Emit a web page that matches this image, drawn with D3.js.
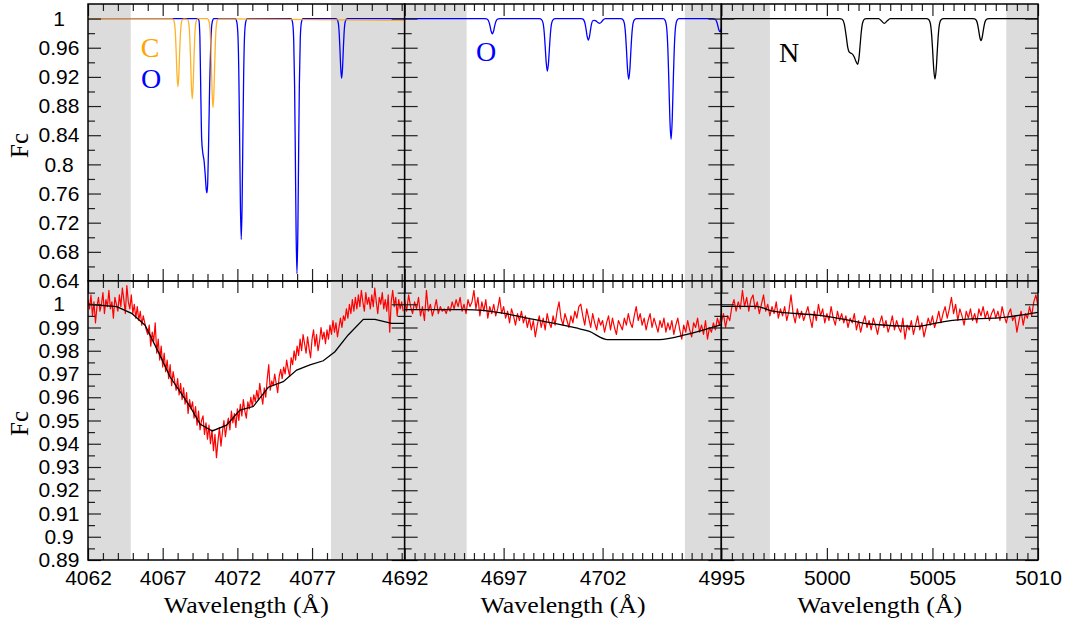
<!DOCTYPE html>
<html>
<head>
<meta charset="utf-8">
<script src="https://cdn.jsdelivr.net/npm/d3@7"></script>
<style>
  body { margin: 0; background: #fff; }
  svg { display: block; }
</style>
</head>
<body>
<div id="chart"></div>
<script>
// wavelength windows, one per column
var waveDomains = [[4062, 4083.2], [4692, 4708], [4995, 5010]];
var xMajorTicks = [[4062, 4067, 4072, 4077], [4692, 4697, 4702], [4995, 5000, 5005, 5010]];
var xMinorStep = [1, 0.5, 0.5];

var topYTicks = [0.64, 0.68, 0.72, 0.76, 0.8, 0.84, 0.88, 0.92, 0.96, 1];
var topYLabels = ["0.64", "0.68", "0.72", "0.76", "0.8", "0.84", "0.88", "0.92", "0.96", "1"];
var topYMinor = [0.66, 0.7, 0.74, 0.78, 0.82, 0.86, 0.9, 0.94, 0.98];
var botYTicks = [0.89, 0.9, 0.91, 0.92, 0.93, 0.94, 0.95, 0.96, 0.97, 0.98, 0.99, 1];
var botYLabels = ["0.89", "0.9", "0.91", "0.92", "0.93", "0.94", "0.95", "0.96", "0.97", "0.98", "0.99", "1"];
var botYMinor = [0.895, 0.905, 0.915, 0.925, 0.935, 0.945, 0.955, 0.965, 0.975, 0.985, 0.995, 1.005];

// grey bands (masked regions)
var shaded = [
  [[4062, 4064.86], [4078.27, 4083.2]],
  [[4692, 4695.13], [4706.16, 4708]],
  [[4995, 4997.3], [5008.5, 5010]]
];

// synthetic line profiles, top row  [wavelength, flux]
var oxygen1 = [[4062, 1], [4069.32, 1], [4069.42, 0.998], [4069.49, 0.975], [4069.55, 0.90], [4069.61, 0.835],
  [4069.69, 0.815], [4069.77, 0.805], [4069.85, 0.785], [4069.92, 0.765], [4069.965, 0.761], [4070.015, 0.775],
  [4070.075, 0.83], [4070.145, 0.91], [4070.225, 0.97], [4070.315, 0.995], [4070.425, 1],
  [4071.86, 1], [4071.96, 0.9955], [4072.04, 0.976], [4072.10, 0.921], [4072.15, 0.839], [4072.20, 0.749],
  [4072.26, 0.697], [4072.32, 0.749], [4072.37, 0.839], [4072.42, 0.921], [4072.48, 0.976], [4072.56, 0.9955], [4072.66, 1],
  [4075.59, 1], [4075.69, 0.995], [4075.77, 0.972], [4075.83, 0.909], [4075.88, 0.815], [4075.93, 0.71],
  [4075.99, 0.650], [4076.05, 0.71], [4076.10, 0.815], [4076.15, 0.909], [4076.21, 0.972], [4076.29, 0.995], [4076.39, 1],
  [4078.58, 1], [4078.68, 0.9988], [4078.76, 0.9934], [4078.82, 0.9787], [4078.87, 0.9565], [4078.92, 0.932],
  [4078.98, 0.918], [4079.04, 0.932], [4079.09, 0.9565], [4079.14, 0.9787], [4079.20, 0.9934], [4079.28, 0.9988], [4079.38, 1],
  [4083.2, 1]];
var carbon1 = [[4062, 1], [4067.62, 1], [4067.72, 0.9986], [4067.80, 0.9925], [4067.86, 0.9757], [4067.91, 0.9504],
  [4067.96, 0.9224], [4068.02, 0.9065], [4068.08, 0.9224], [4068.13, 0.9504], [4068.18, 0.9757], [4068.24, 0.9925],
  [4068.32, 0.9986], [4068.42, 0.9995], [4068.50, 0.9995],
  [4068.68, 0.9984], [4068.76, 0.9912], [4068.82, 0.9714], [4068.87, 0.9417], [4068.92, 0.9087], [4068.98, 0.890],
  [4069.04, 0.9087], [4069.09, 0.9417], [4069.14, 0.9714], [4069.20, 0.9912], [4069.28, 0.9984], [4069.38, 1],
  [4069.97, 1], [4070.07, 0.9982], [4070.15, 0.9902], [4070.21, 0.9683], [4070.26, 0.9353], [4070.31, 0.8987],
  [4070.37, 0.878], [4070.43, 0.8987], [4070.48, 0.9353], [4070.53, 0.9683], [4070.59, 0.9902], [4070.67, 0.9982],
  [4070.77, 0.9995], [4083.2, 0.9975]];
var oxygen2 = [[4692, 1], [4696.03, 1], [4696.13, 0.9997], [4696.21, 0.9983], [4696.27, 0.9945], [4696.32, 0.9889],
  [4696.37, 0.9826], [4696.43, 0.979], [4696.49, 0.9826], [4696.54, 0.9889], [4696.59, 0.9945], [4696.65, 0.9983],
  [4696.73, 0.9997], [4696.83, 1],
  [4698.81, 1], [4698.91, 0.9989], [4698.99, 0.9942], [4699.05, 0.9813], [4699.10, 0.9618], [4699.15, 0.9402],
  [4699.21, 0.928], [4699.27, 0.9402], [4699.32, 0.9618], [4699.37, 0.9813], [4699.43, 0.9942], [4699.51, 0.9989], [4699.61, 1],
  [4700.88, 1], [4700.98, 0.9996], [4701.06, 0.9976], [4701.12, 0.9924], [4701.17, 0.9844], [4701.22, 0.9756],
  [4701.28, 0.9706], [4701.34, 0.9756], [4701.39, 0.9844], [4701.44, 0.9924], [4701.50, 0.997], [4701.58, 0.9975],
  [4701.68, 0.9965], [4701.77, 0.9945], [4701.85, 0.9935], [4701.93, 0.9948], [4702.02, 0.998], [4702.14, 1],
  [4702.92, 1], [4703.02, 0.9988], [4703.10, 0.9933], [4703.16, 0.9783], [4703.21, 0.9559], [4703.26, 0.9309],
  [4703.32, 0.9167], [4703.38, 0.9309], [4703.43, 0.9559], [4703.48, 0.9783], [4703.54, 0.9933], [4703.62, 0.9988], [4703.72, 1],
  [4705.06, 1], [4705.16, 0.9975], [4705.24, 0.9868], [4705.30, 0.9569], [4705.35, 0.9122], [4705.40, 0.8626],
  [4705.46, 0.8344], [4705.52, 0.8626], [4705.57, 0.9122], [4705.62, 0.9569], [4705.68, 0.9868], [4705.76, 0.9975], [4705.86, 1],
  [4707.53, 1], [4707.63, 0.9997], [4707.71, 0.9986], [4707.77, 0.9953], [4707.82, 0.9905], [4707.87, 0.9851],
  [4707.93, 0.982], [4707.99, 0.9851], [4708.04, 0.9905]];
var nitrogen3 = [[4995, 1], [5000.6, 1], [5000.72, 0.999], [5000.82, 0.993], [5000.92, 0.975], [5000.99, 0.960],
  [5001.06, 0.954], [5001.14, 0.9525], [5001.22, 0.951], [5001.30, 0.947], [5001.38, 0.941], [5001.46, 0.9373],
  [5001.52, 0.946], [5001.57, 0.962], [5001.63, 0.982], [5001.70, 0.995], [5001.80, 0.9995], [5001.9, 1],
  [5002.45, 1], [5002.58, 0.997], [5002.72, 0.9935], [5002.86, 0.997], [5003.0, 1],
  [5004.72, 1], [5004.82, 0.9988], [5004.90, 0.9934], [5004.96, 0.9784], [5005.01, 0.956], [5005.06, 0.9311],
  [5005.12, 0.917], [5005.18, 0.9311], [5005.23, 0.956], [5005.28, 0.9784], [5005.34, 0.9934], [5005.42, 0.9988], [5005.52, 1],
  [5006.9, 1], [5007.0, 0.9995], [5007.08, 0.9976], [5007.14, 0.9921], [5007.19, 0.9839], [5007.24, 0.9749],
  [5007.3, 0.9697], [5007.36, 0.9749], [5007.41, 0.9839], [5007.46, 0.9921], [5007.52, 0.9976], [5007.6, 0.9995],
  [5007.7, 1], [5010, 1]];

// observed spectra (bottom row), 0.1 A sampling from the window start
var obsStep = 0.1;
var obs1 = [
  1.002, 0.998, 1.004, 0.995, 1.001, 0.992, 0.999, 1.003, 0.997, 1.000,
  1.005, 0.996, 1.002, 0.999, 1.006, 0.998, 1.001, 0.994, 1.003, 1.000,
  0.997, 1.004, 0.999, 1.007, 1.002, 0.996, 1.008, 1.001, 0.998, 1.004,
  0.996, 1.000, 0.994, 0.999, 0.993, 0.997, 0.991, 0.995, 0.992, 0.989,
  0.987, 0.991, 0.982, 0.988, 0.984, 0.992, 0.979, 0.985, 0.976, 0.982,
  0.973, 0.979, 0.971, 0.976, 0.968, 0.974, 0.965, 0.971, 0.967, 0.963,
  0.968, 0.961, 0.966, 0.959, 0.964, 0.957, 0.962, 0.953, 0.959, 0.955,
  0.958, 0.951, 0.956, 0.948, 0.954, 0.946, 0.950, 0.952, 0.944, 0.949,
  0.942, 0.948, 0.940, 0.946, 0.937, 0.944, 0.934, 0.941, 0.947, 0.939,
  0.945, 0.950, 0.943, 0.948, 0.951, 0.946, 0.954, 0.949, 0.953, 0.947,
  0.955, 0.950, 0.957, 0.952, 0.959, 0.954, 0.951, 0.958, 0.955, 0.960,
  0.956, 0.961, 0.958, 0.963, 0.959, 0.966, 0.961, 0.957, 0.964, 0.960,
  0.968, 0.974, 0.963, 0.967, 0.965, 0.970, 0.966, 0.962, 0.969, 0.972,
  0.968, 0.973, 0.970, 0.976, 0.972, 0.969, 0.977, 0.974, 0.980, 0.976,
  0.982, 0.978, 0.985, 0.980, 0.987, 0.983, 0.979, 0.986, 0.981, 0.977,
  0.985, 0.989, 0.982, 0.987, 0.980, 0.984, 0.990, 0.985, 0.988, 0.983,
  0.989, 0.985, 0.991, 0.987, 0.993, 0.988, 0.992, 0.986, 0.990, 0.994,
  0.990, 0.995, 0.993, 0.998, 0.994, 1.000, 0.996, 1.002, 0.997, 1.003,
  0.998, 1.004, 0.999, 1.006, 1.001, 0.997, 1.005, 1.000, 1.003, 0.998,
  1.004, 0.999, 1.007, 1.001, 0.996, 1.003, 1.000, 1.005, 0.998, 1.002,
  0.997, 1.004, 0.988, 1.001, 1.006, 0.999, 1.003, 0.995, 1.002, 0.998,
  1.001, 0.997];
var obs2 = [
  1.002, 0.997, 1.004, 0.999, 0.996, 1.001, 0.998, 1.003, 0.995, 0.999,
  0.993, 1.006, 0.997, 1.000, 0.995, 0.998, 1.002, 0.996, 0.999, 0.997,
  0.998, 0.996, 0.999, 0.997, 1.001, 0.998, 1.002, 0.999, 1.003, 0.997,
  1.000, 0.996, 1.002, 0.999, 1.001, 1.006, 0.998, 1.003, 0.995, 1.001,
  0.997, 1.002, 0.994, 0.999, 0.996, 1.000, 0.995, 0.998, 1.003, 0.996,
  0.999, 0.994, 0.997, 0.992, 0.998, 0.995, 0.991, 0.996, 0.993, 0.997,
  0.992, 0.995, 0.990, 0.994, 0.989, 0.993, 0.986, 0.991, 0.995, 0.990,
  0.994, 0.989, 0.996, 0.992, 0.990, 0.995, 0.991, 0.997, 1.001, 0.994,
  0.991, 0.996, 0.993, 0.990, 0.995, 0.992, 0.997, 0.994, 0.999, 1.000,
  0.995, 0.991, 0.998, 0.994, 0.990, 0.996, 0.992, 0.989, 0.994, 0.991,
  0.993, 0.988, 0.992, 0.995, 0.989, 0.994, 0.990, 0.987, 0.993, 0.991,
  0.989, 0.994, 0.991, 0.996, 0.992, 0.990, 0.995, 0.999, 0.993, 0.996,
  0.991, 0.994, 0.989, 0.993, 0.996, 0.990, 0.994, 0.991, 0.988, 0.993,
  0.990, 0.994, 0.988, 0.992, 0.989, 0.993, 0.987, 0.991, 0.994, 0.989,
  0.985, 0.991, 0.988, 0.993, 0.989, 0.986, 0.992, 0.990, 0.994, 0.988,
  0.991, 0.987, 0.993, 0.985, 0.990, 0.988, 0.992, 0.989, 0.994, 0.991,
  0.996];
var obs3 = [
  0.992, 0.996, 0.990, 0.995, 0.993, 0.999, 1.002, 0.997, 1.001, 0.998,
  1.006, 0.999, 1.003, 0.997, 1.002, 1.004, 0.998, 1.001, 0.996, 1.000,
  1.004, 0.997, 1.000, 0.995, 0.999, 0.996, 1.001, 0.994, 0.998, 0.995,
  0.999, 0.993, 0.997, 1.004, 0.996, 0.992, 0.998, 0.994, 0.997, 0.993,
  0.996, 0.999, 0.994, 0.990, 0.997, 0.993, 1.000, 0.995, 0.998, 0.992,
  0.996, 0.993, 0.999, 0.994, 0.991, 0.997, 0.993, 0.996, 0.992, 0.995,
  0.990, 0.994, 0.992, 0.996, 0.989, 0.993, 0.988, 0.992, 0.995, 0.990,
  0.993, 0.989, 0.994, 0.991, 0.987, 0.992, 0.995, 0.990, 0.993, 0.988,
  0.991, 0.995, 0.989, 0.993, 0.990, 0.988, 0.994, 0.985, 0.991, 0.989,
  0.993, 0.987, 0.991, 0.995, 0.989, 0.992, 0.986, 0.990, 0.994, 0.991,
  0.995, 0.990, 0.993, 0.997, 0.992, 0.996, 0.999, 0.994, 0.998, 1.003,
  0.996, 1.000, 0.993, 0.998, 0.995, 0.991, 0.997, 0.994, 0.998, 0.993,
  0.996, 0.992, 0.998, 0.995, 0.999, 0.994, 0.997, 0.993, 0.996, 0.998,
  0.994, 0.997, 0.993, 0.999, 0.995, 0.992, 0.996, 0.998, 0.993, 0.995,
  0.988, 0.993, 0.997, 0.991, 0.996, 0.994, 0.999, 0.995, 1.001, 1.004,
  0.999];

// fitted models (bottom row)
var model1 = [[4062, 1.000], [4063.92, 0.999], [4064.92, 0.9961], [4065.82, 0.991], [4066.82, 0.978],
  [4067.49, 0.9688], [4068.16, 0.9624], [4068.83, 0.956], [4069.50, 0.9485], [4070.32, 0.9455],
  [4071.28, 0.948], [4072.17, 0.9545], [4073.06, 0.956], [4074.07, 0.9643], [4075.07, 0.9667],
  [4075.97, 0.9717], [4076.86, 0.9739], [4077.75, 0.9757], [4078.53, 0.9796], [4079.42, 0.9868],
  [4080.43, 0.9935], [4081.21, 0.9935], [4082.33, 0.9918], [4083.2, 0.9918]];
var model2 = [[4692, 0.9977], [4695.1, 0.9977], [4696.95, 0.9962], [4698.13, 0.9941], [4700.66, 0.9898],
  [4701.3, 0.9884], [4702.26, 0.9848], [4704.87, 0.9848], [4706.22, 0.9869], [4708, 0.9912]];
var model3 = [[4995, 0.9991], [4996.64, 0.9991], [4997.43, 0.997], [4999.64, 0.9952], [5000.9, 0.9934],
  [5002.0, 0.9915], [5004.22, 0.9905], [5005.0, 0.9916], [5005.96, 0.9931], [5008.49, 0.9945], [5010, 0.9965]];

var width = 1067, height = 626;
var plotLeft = 88, plotRight = 1038, plotTop = 4, plotMid = 281, plotBottom = 560;
var colW = (plotRight - plotLeft) / 3;

var svg = d3.select("#chart").append("svg")
  .attr("width", width)
  .attr("height", height);

var yTop = d3.scaleLinear().domain([0.64, 1.02]).range([plotMid, plotTop]);
var yBot = d3.scaleLinear().domain([0.89, 1.01]).range([plotBottom, plotMid]);

var topSpectra = [
  [{ data: oxygen1, color: "#0000ff", op: 1 }, { data: carbon1, color: "#ffa500", op: 0.85 }],
  [{ data: oxygen2, color: "#0000ff", op: 1 }],
  [{ data: nitrogen3, color: "#000000", op: 1 }]
];
var obsSets = [obs1, obs2, obs3];
var modelSets = [model1, model2, model3];

function edgeTicks(g, axisGen, scale, vals, len, tr) {
  var ax = axisGen(scale).tickValues(vals).tickSizeInner(-len).tickSizeOuter(0).tickFormat(function() { return ""; });
  var a = g.append("g").attr("transform", tr).call(ax);
  a.select(".domain").remove();
  a.selectAll(".tick line").attr("stroke", "#222").attr("stroke-width", 1.2);
  return a;
}

for (var c = 0; c < 3; c++) {
  var x0 = plotLeft + c * colW, x1 = x0 + colW;
  var x = d3.scaleLinear().domain(waveDomains[c]).range([x0, x1]);
  var majors = xMajorTicks[c];
  var minors = d3.range(waveDomains[c][0], waveDomains[c][1] + 1e-6, xMinorStep[c])
    .filter(function(v) { return majors.every(function(m) { return Math.abs(m - v) > 1e-6; }); });

  [[yTop, plotTop, plotMid], [yBot, plotMid, plotBottom]].forEach(function(row, r) {
    var y = row[0], yA = row[1], yB = row[2];
    var clipId = "clip" + c + "_" + r;
    svg.append("clipPath").attr("id", clipId)
      .append("rect").attr("x", x0).attr("y", yA).attr("width", colW).attr("height", yB - yA);
    var g = svg.append("g");
    var plot = g.append("g").attr("clip-path", "url(#" + clipId + ")");

    plot.selectAll("rect.band").data(shaded[c]).enter().append("rect")
      .attr("class", "band")
      .attr("x", function(d) { return x(d[0]); })
      .attr("width", function(d) { return x(d[1]) - x(d[0]); })
      .attr("y", yA).attr("height", yB - yA)
      .attr("fill", "#dcdcdc");

    if (r === 0) {
      var smooth = d3.line().curve(d3.curveMonotoneX)
        .x(function(d) { return x(d[0]); }).y(function(d) { return y(d[1]); });
      topSpectra[c].forEach(function(s) {
        plot.append("path").datum(s.data)
          .attr("fill", "none").attr("stroke", s.color).attr("stroke-width", 1.3)
          .attr("stroke-opacity", s.op)
          .attr("d", smooth);
      });
    } else {
      var start = waveDomains[c][0];
      var pts = obsSets[c].map(function(f, i) { return [start + i * obsStep, f]; });
      var lin = d3.line().x(function(d) { return x(d[0]); }).y(function(d) { return y(d[1]); });
      plot.append("path").datum(pts)
        .attr("fill", "none").attr("stroke", "#ff0000").attr("stroke-width", 1.2)
        .attr("stroke-linejoin", "round")
        .attr("d", lin);
      var modelLine = d3.line()
        .curve(c === 0 ? d3.curveLinear : d3.curveMonotoneX)
        .x(function(d) { return x(d[0]); }).y(function(d) { return y(d[1]); });
      plot.append("path").datum(modelSets[c])
        .attr("fill", "none").attr("stroke", "#000").attr("stroke-width", 1.3)
        .attr("d", modelLine);
    }

    var yMaj = r === 0 ? topYTicks : botYTicks;
    var yMin = r === 0 ? topYMinor : botYMinor;
    // inward ticks on all four edges
    edgeTicks(g, d3.axisBottom, x, majors, 12, "translate(0," + yB + ")");
    edgeTicks(g, d3.axisBottom, x, minors, 7, "translate(0," + yB + ")");
    edgeTicks(g, d3.axisTop, x, majors, 12, "translate(0," + yA + ")");
    edgeTicks(g, d3.axisTop, x, minors, 7, "translate(0," + yA + ")");
    edgeTicks(g, d3.axisLeft, y, yMaj, 13, "translate(" + x0 + ",0)");
    edgeTicks(g, d3.axisLeft, y, yMin, 7, "translate(" + x0 + ",0)");
    edgeTicks(g, d3.axisRight, y, yMaj, 13, "translate(" + x1 + ",0)");
    edgeTicks(g, d3.axisRight, y, yMin, 7, "translate(" + x1 + ",0)");

    g.append("rect").attr("x", x0).attr("y", yA).attr("width", colW).attr("height", yB - yA)
      .attr("fill", "none").attr("stroke", "#000").attr("stroke-width", 1.5);

    if (c === 0) {
      var labels = r === 0 ? topYLabels : botYLabels;
      var yl = g.append("g").attr("transform", "translate(" + x0 + ",0)")
        .call(d3.axisLeft(y).tickValues(yMaj).tickSize(0).tickPadding(29)
          .tickFormat(function(d, i) { return labels[i]; }));
      yl.select(".domain").remove();
      yl.selectAll("text")
        .attr("text-anchor", "middle")
        .style("font-family", "'Liberation Sans', Arial, sans-serif")
        .style("font-size", "21px").attr("fill", "#000");

      g.append("text")
        .attr("transform", "translate(28," + ((yA + yB) / 2 + 3) + ") rotate(-90)")
        .attr("text-anchor", "middle")
        .style("font-family", "'Liberation Serif', 'Times New Roman', serif")
        .style("font-size", "25px")
        .text("Fc");
    }

    if (r === 1) {
      var xl = g.append("g").attr("transform", "translate(0," + yB + ")")
        .call(d3.axisBottom(x).tickValues(majors).tickSize(0).tickPadding(10).tickFormat(d3.format("d")));
      xl.select(".domain").remove();
      xl.selectAll("text")
        .style("font-family", "'Liberation Sans', Arial, sans-serif")
        .style("font-size", "21px").attr("fill", "#000");

      g.append("text")
        .attr("x", (x0 + x1) / 2).attr("y", 613)
        .attr("text-anchor", "middle")
        .attr("textLength", 165).attr("lengthAdjust", "spacingAndGlyphs")
        .style("font-family", "'Liberation Serif', 'Times New Roman', serif")
        .style("font-size", "23px")
        .text("Wavelength (\u00c5)");
    }
  });
}

// element labels in the top row
var elemLabels = [
  { text: "C", x: 150, y: 57, color: "#ffa500" },
  { text: "O", x: 151, y: 87.5, color: "#0000ff" },
  { text: "O", x: 486, y: 61, color: "#0000ff" },
  { text: "N", x: 789, y: 62, color: "#000000" }
];
svg.selectAll("text.elem").data(elemLabels).enter().append("text")
  .attr("class", "elem")
  .attr("x", function(d) { return d.x; })
  .attr("y", function(d) { return d.y; })
  .attr("text-anchor", "middle")
  .attr("fill", function(d) { return d.color; })
  .style("font-family", "'Liberation Serif', 'Times New Roman', serif")
  .style("font-size", "28px")
  .text(function(d) { return d.text; });
</script>
</body>
</html>
